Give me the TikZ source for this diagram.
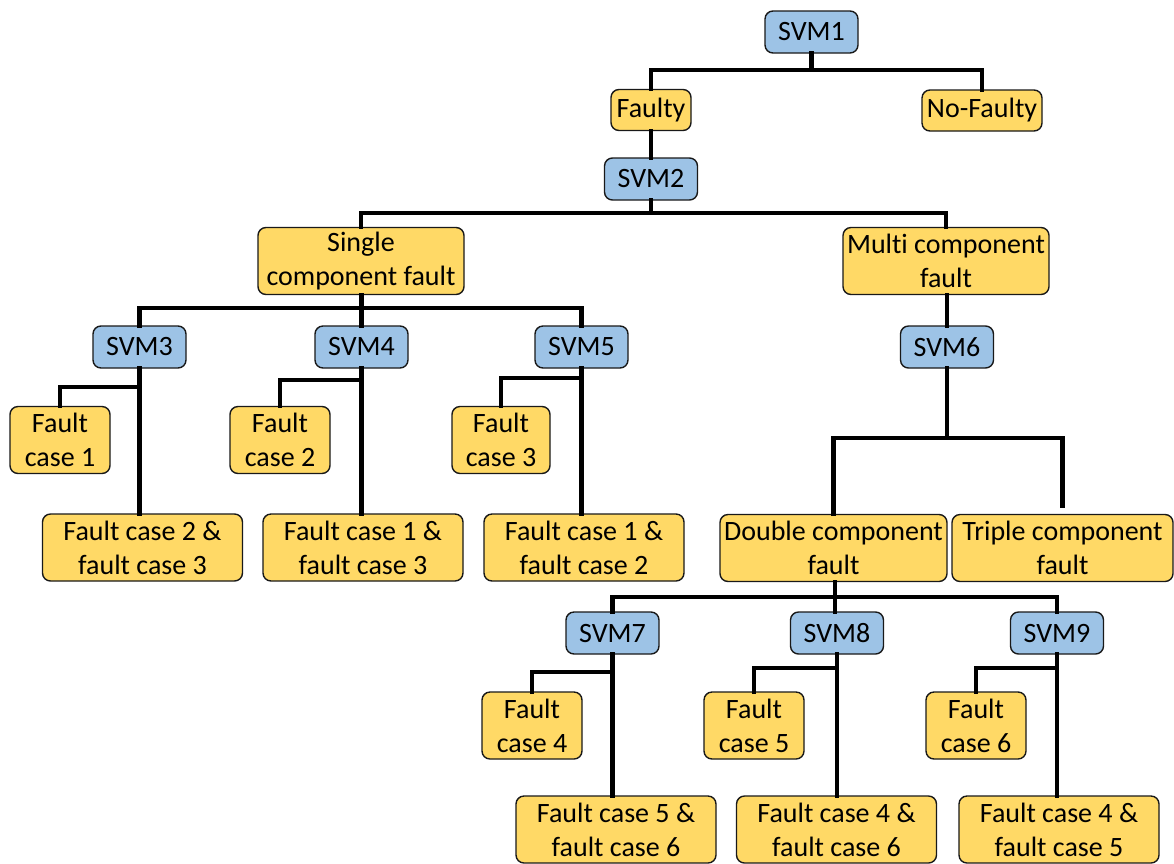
\documentclass[tikz,border=0pt]{standalone}
\usepackage{fontspec}
\setmainfont{Carlito}[Ligatures={NoCommon}]
\usetikzlibrary{calc}
\definecolor{svmblue}{HTML}{9DC3E6}
\definecolor{leafyellow}{HTML}{FFD966}
\begin{document}
\begin{tikzpicture}[x=1pt,y=-1pt,
  box/.style={draw=black!90, line width=1.4pt, rounded corners=8pt, inner sep=0pt,
    align=center, font=\fontsize{28}{34}\selectfont, text=black},
  svm/.style={box, fill=svmblue, minimum width=93pt, minimum height=42pt},
  leaf/.style={box, fill=leafyellow, minimum height=41pt},
  small/.style={box, fill=leafyellow, minimum width=100pt, minimum height=67pt},
  wide/.style={box, fill=leafyellow, minimum width=200pt, minimum height=67pt},
  conn/.style={line width=4.8pt, line join=miter, line cap=rect}]
\useasboundingbox (0,0) rectangle (1174,863);

% level 0-1
\node[svm] (s1) at (811.5,32) {SVM1};
\node[leaf, minimum width=80pt] (faulty) at (651,110) {Faulty};
\node[leaf, minimum width=120pt] (nofaulty) at (982,110.5) {No-Faulty};
\node[svm] (s2) at (651,179) {SVM2};

% level 2
\node[wide, minimum width=206pt] (single) at (361,261) {Single\\component fault};
\node[wide, minimum width=206pt] (multi) at (946,261) {Multi component\\fault};

% level 3
\node[svm] (s3) at (139.5,347) {SVM3};
\node[svm] (s4) at (361.5,347) {SVM4};
\node[svm] (s5) at (581.5,347) {SVM5};
\node[svm] (s6) at (947,347) {SVM6};

% single-fault leaves
\node[small] (f1) at (60,440) {Fault\\case 1};
\node[small] (f2) at (280,440) {Fault\\case 2};
\node[small, minimum width=98pt] (f3) at (501,440) {Fault\\case 3};
\node[wide] (f23) at (142.5,547.5) {Fault case 2 \&\\fault case 3};
\node[wide] (f13) at (363,547.5) {Fault case 1 \&\\fault case 3};
\node[wide] (f12) at (584,547.5) {Fault case 1 \&\\fault case 2};

% multi-fault branch
\node[wide, minimum width=227pt] (double) at (833.5,548) {Double component\\fault};
\node[wide, minimum width=221pt] (triple) at (1062.5,548) {Triple component\\fault};

\node[svm] (s7) at (612.5,633) {SVM7};
\node[svm] (s8) at (837,633) {SVM8};
\node[svm] (s9) at (1057,633) {SVM9};

\node[small] (f4) at (532,725.5) {Fault\\case 4};
\node[small] (f5) at (754,725.5) {Fault\\case 5};
\node[small] (f6) at (976,725.5) {Fault\\case 6};
\node[wide] (f56) at (616,829.5) {Fault case 5 \&\\fault case 6};
\node[wide] (f46) at (836.5,829.5) {Fault case 4 \&\\fault case 6};
\node[wide] (f45) at (1059,829.5) {Fault case 4 \&\\fault case 5};

% junction points
\coordinate (j1) at (811.5,70);
\coordinate (j2) at (651,213);
\coordinate (j3) at (361.5,308);
\coordinate (j6) at (947,438);
\coordinate (jd) at (835,597);
\coordinate (k3) at (139.5,387);
\coordinate (k4) at (361.5,380);
\coordinate (k5) at (581.5,378);
\coordinate (k7) at (612.5,672);
\coordinate (k8) at (837,668);
\coordinate (k9) at (1057,668);

% connectors
\draw[conn] (s1.south) -- (j1) -| (faulty.north);
\draw[conn] (j1) -| (nofaulty.north);
\draw[conn] (faulty.south) -- (s2.north);
\draw[conn] (s2.south) -- (j2) -| (single.north);
\draw[conn] (j2) -| (multi.north);
\draw[conn] (j3 |- single.south) -- (j3) -| (s3.north);
\draw[conn] (j3) -| (s5.north);
\draw[conn] (j3) -- (s4.north);
\draw[conn] (s6.north) -- (s6.north |- multi.south);

\draw[conn] (s3.south) -- (s3.south |- f23.north);
\draw[conn] (k3) -| (f1.north);
\draw[conn] (s4.south) -- (s4.south |- f13.north);
\draw[conn] (k4) -| (f2.north);
\draw[conn] (s5.south) -- (s5.south |- f12.north);
\draw[conn] (k5) -| (f3.north);

\draw[conn] (s6.south) -- (j6) -| (double.north);
\draw[conn, shorten >=8pt] (j6) -| (triple.north);

\draw[conn] (jd |- double.south) -- (jd) -| (s7.north);
\draw[conn] (jd) -| (s9.north);
\draw[conn] (jd) -- (jd |- s8.north);

\draw[conn] (s7.south) -- (s7.south |- f56.north);
\draw[conn] (k7) -| (f4.north);
\draw[conn] (s8.south) -- (s8.south |- f46.north);
\draw[conn] (k8) -| (f5.north);
\draw[conn] (s9.south) -- (s9.south |- f45.north);
\draw[conn] (k9) -| (f6.north);
\end{tikzpicture}
\end{document}
